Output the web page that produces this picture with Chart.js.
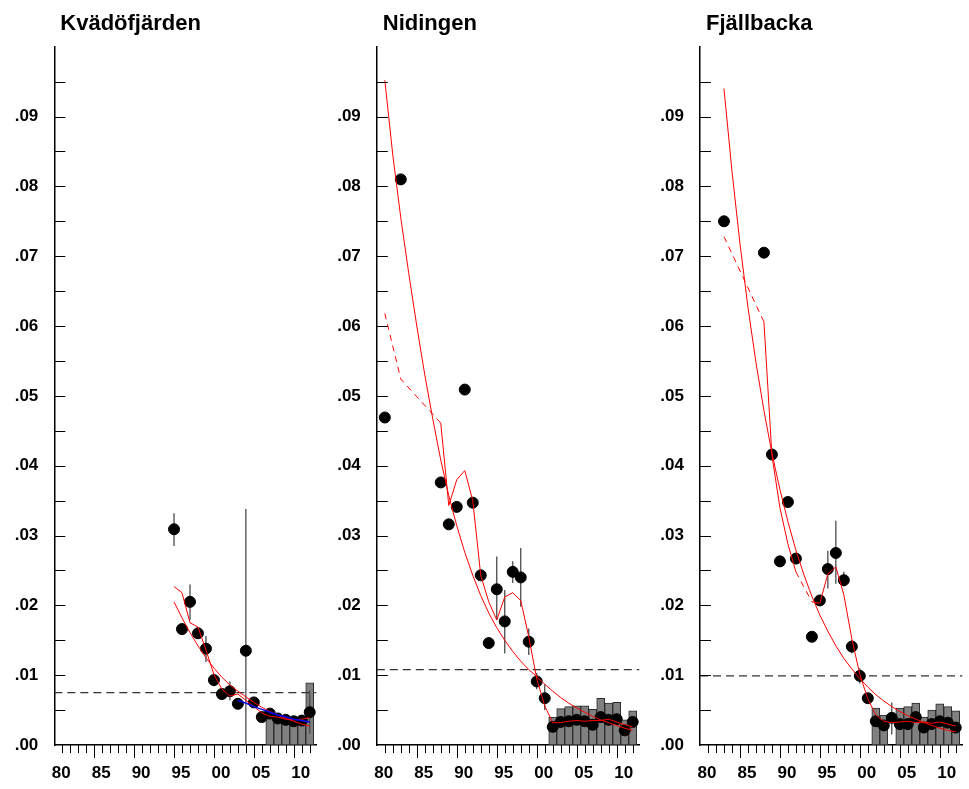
<!DOCTYPE html>
<html>
<head>
<meta charset="utf-8">
<script src="https://cdn.jsdelivr.net/npm/chart.js@4.4.1/dist/chart.umd.min.js"></script>
<style>
  html, body { margin: 0; padding: 0; background: #fff; }
  #wrap { position: relative; width: 969px; height: 789px; overflow: hidden; }
  canvas { position: absolute; top: 0; }
</style>
</head>
<body>
<div id="wrap">
  <canvas id="panel1" width="323" height="789" style="left:0px"></canvas>
  <canvas id="panel2" width="323" height="789" style="left:323px"></canvas>
  <canvas id="panel3" width="323" height="789" style="left:646px"></canvas>
</div>
<script>
// ---- axes ----
const xMin = 1980, xMax = 2012.85;
const xTickYears  = [1980, 1985, 1990, 1995, 2000, 2005, 2010];
const xTickLabels = ['80', '85', '90', '95', '00', '05', '10'];
const yTickValues = [0, 0.01, 0.02, 0.03, 0.04, 0.05, 0.06, 0.07, 0.08, 0.09];
const yTickLabels = ['.00', '.01', '.02', '.03', '.04', '.05', '.06', '.07', '.08', '.09'];

// ---- Kvädöfjärden ----
const kvYears = [1995, 1996, 1997, 1998, 1999, 2000, 2001, 2002, 2003, 2004, 2005, 2006, 2007, 2008, 2009, 2010, 2011, 2012];
const kvMean  = [.0309, .0166, .0205, .0160, .0138, .0093, .0073, .0077, .0059, .0135, .0061, .0040, .0045, .0038, .0036, .0034, .0035, .0047];
const kvLow   = [.0285, .0159, .0179, .0155, .0119, .0084, null, .0064, null, 0, null, null, null, null, null, null, null, .0016];
const kvHigh  = [.0332, .0174, .0230, .0166, .0156, .0102, null, .0091, null, .0338, null, null, null, null, null, null, null, .0078];
const kvTrend  = [.0205, .0182, .0161, .0142, .0125, .0110, .0097, .0086, .0077, .0069, .0061, .0054, .0048, .0043, .0038, .0034, .0030, .0027];
const kvSmooth = [.0227, .0218, .0175, .0169, .0136, .0101, .0080, .0070, .0073, .0064, .0055, .0046, .0041, .0040, .0037, .0036, .0037, .0039];
const kvRecentYears = [2003, 2004, 2005, 2006, 2007, 2008, 2009, 2010, 2011, 2012];
const kvRecent      = [.0064, .0060, .0055, .0051, .0047, .0043, .0040, .0037, .0035, .0033];
const kvBarYears = [2007, 2008, 2009, 2010, 2011, 2012];
const kvBars     = [.0045, .0041, .0038, .0036, .0037, .0089];
const kvLevel = .0075;

// ---- Nidingen ----
const niYears = [1981, 1983, 1988, 1989, 1990, 1991, 1992, 1993, 1994, 1995, 1996, 1997, 1998, 1999, 2000, 2001, 2002, 2003, 2004, 2005, 2006, 2007, 2008, 2009, 2010, 2011, 2012];
const niMean  = [.0469, .0810, .0376, .0316, .0341, .0509, .0347, .0243, .0146, .0223, .0177, .0248, .0240, .0148, .0091, .0067, .0026, .0033, .0034, .0036, .0034, .0029, .0040, .0036, .0037, .0021, .0033];
const niLow   = [null, null, null, null, null, null, null, null, null, .0179, .0131, .0232, .0198, .0129, .0080, .0050, null, null, null, null, null, null, null, null, null, null, null];
const niHigh  = [null, null, null, null, null, null, null, null, null, .0270, .0222, .0263, .0282, .0167, .0103, .0087, null, null, null, null, null, null, null, null, null, null, null];
const niSmooth = [.0618, .0524, .0461, .0343, .0380, .0393, .0350, .0243, .0205, .0179, .0212, .0218, .0207, .0155, .0095, .0056, .0032, .0032, .0034, .0035, .0034, .0035, .0035, .0037, .0033, .0029, .0026];
const niTrendYears = [1981, 1982, 1983, 1984, 1985, 1986, 1987, 1988, 1989, 1990, 1991, 1992, 1993, 1994, 1995, 1996, 1997, 1998, 1999, 2000, 2001, 2002, 2003, 2004, 2005, 2006, 2007, 2008, 2009, 2010, 2011, 2012];
const niTrend = [.0952, .0845, .0755, .0675, .0600, .0530, .0467, .0408, .0357, .0314, .0276, .0243, .0214, .0189, .0168, .0150, .0134, .0120, .0108, .0098, .0087, .0077, .0068, .0060, .0053, .0047, .0041, .0036, .0032, .0028, .0024, .0021];
const niBarYears = [2002, 2003, 2004, 2005, 2006, 2007, 2008, 2009, 2010, 2011, 2012];
const niBars     = [.0040, .0052, .0055, .0056, .0056, .0051, .0067, .0060, .0061, .0036, .0049];
const niLevel = .0108;

// ---- Fjällbacka ----
const fjYears = [1983, 1988, 1989, 1990, 1991, 1992, 1994, 1995, 1996, 1997, 1998, 1999, 2000, 2001, 2002, 2003, 2004, 2005, 2006, 2007, 2008, 2009, 2010, 2011, 2012];
const fjMean  = [.0750, .0705, .0416, .0263, .0348, .0267, .0155, .0207, .0252, .0275, .0236, .0141, .0099, .0067, .0034, .0028, .0039, .0030, .0030, .0040, .0025, .0030, .0034, .0032, .0025];
const fjLow   = [null, null, null, null, null, null, null, null, .0224, .0231, .0227, .0131, .0088, .0060, null, null, .0015, null, null, null, null, null, null, null, null];
const fjHigh  = [null, null, null, null, null, null, null, null, .0278, .0321, .0248, .0150, .0110, .0074, null, null, .0061, null, null, null, null, null, null, null, null];
const fjSmooth = [.0728, .0606, .0415, .0340, .0288, .0248, .0205, .0203, .0245, .0255, .0215, .0152, .0101, .0066, .0043, .0034, .0032, .0033, .0034, .0032, .0033, .0031, .0033, .0030, .0027];
const fjTrendYears = [1983, 1984, 1985, 1986, 1987, 1988, 1989, 1990, 1991, 1992, 1993, 1994, 1995, 1996, 1997, 1998, 1999, 2000, 2001, 2002, 2003, 2004, 2005, 2006, 2007, 2008, 2009, 2010, 2011, 2012];
const fjTrend = [.0940, .0822, .0718, .0627, .0548, .0479, .0418, .0366, .0320, .0279, .0244, .0213, .0186, .0163, .0142, .0124, .0109, .0095, .0083, .0072, .0063, .0055, .0048, .0042, .0037, .0032, .0028, .0024, .0021, .0019];
const fjBarYears = [2002, 2003, 2005, 2006, 2007, 2008, 2009, 2010, 2011, 2012];
const fjBars     = [.0053, .0043, .0053, .0055, .0060, .0040, .0050, .0059, .0055, .0049];
const fjLevel = .0099;

// ---- drawing helpers ----
const FONT = '"Liberation Sans", Arial, Helvetica, sans-serif';
const RED = '#ff0000';

const toPoints = (xs, ys) => xs.map((x, i) => ({ x: x, y: ys[i] }));

// vertical interval lines, separated by gaps so each is its own segment
function intervalPoints(xs, lo, hi) {
  const pts = [];
  xs.forEach((x, i) => {
    if (lo[i] === null || hi[i] === null) return;
    pts.push({ x: x, y: lo[i] }, { x: x, y: hi[i] }, { x: x, y: null });
  });
  return pts;
}

// inward y tick marks every .005 and downward x tick marks every year
const tickMarks = {
  id: 'tickMarks',
  afterDraw(chart) {
    const { ctx, chartArea: a, scales: { x, y } } = chart;
    ctx.save();
    ctx.strokeStyle = '#000';
    ctx.lineWidth = 1;
    ctx.beginPath();
    for (let k = 1; k <= 19; k++) {
      const py = Math.round(y.getPixelForValue(k * 0.005)) + 0.5;
      ctx.moveTo(a.left, py);
      ctx.lineTo(a.left + 11, py);
    }
    for (let yr = 1981; yr <= 2012; yr++) {
      const px = Math.round(x.getPixelForValue(yr)) + 0.5;
      ctx.moveTo(px, a.bottom);
      ctx.lineTo(px, a.bottom + (yr % 5 === 0 ? 13 : 8));
    }
    ctx.stroke();
    ctx.restore();
  }
};

// station name above each panel
const panelTitle = {
  id: 'panelTitle',
  afterDraw(chart, args, opts) {
    const { ctx, chartArea } = chart;
    ctx.save();
    ctx.font = 'bold 22px ' + FONT;
    ctx.fillStyle = '#000';
    ctx.textAlign = 'left';
    ctx.textBaseline = 'alphabetic';
    ctx.fillText(opts.text, chartArea.left + 6, 30);
    ctx.restore();
  }
};

function buildPanel(id, p) {
  const lineStyle = { type: 'line', pointRadius: 0, tension: 0, fill: false };
  const datasets = [
    { type: 'bar', data: toPoints(p.barYears, p.bars), backgroundColor: '#808080',
      borderColor: '#2a2a2a', borderWidth: 1, borderSkipped: false,
      barPercentage: 1, categoryPercentage: 1, order: 6 },
    Object.assign({}, lineStyle, { data: [{ x: xMin, y: p.level }, { x: xMax, y: p.level }],
      borderColor: '#333', borderWidth: 1.2, borderDash: [8, 5], order: 5 }),
    Object.assign({}, lineStyle, { data: intervalPoints(p.years, p.low, p.high),
      borderColor: '#4a4a4a', borderWidth: 1.3, spanGaps: false, order: 4 }),
    { type: 'scatter', data: toPoints(p.years, p.mean), backgroundColor: '#000',
      borderColor: '#000', pointRadius: 5.5, pointHoverRadius: 5.5, order: 3 },
    Object.assign({}, lineStyle, { data: toPoints(p.trendYears, p.trend),
      borderColor: RED, borderWidth: 1, order: 2 }),
    Object.assign({}, lineStyle, { data: toPoints(p.years, p.smooth),
      borderColor: RED, borderWidth: 1, order: 2,
      segment: { borderDash: c => (c.p1.parsed.x - c.p0.parsed.x > 1.5 ? [6, 5] : undefined) } })
  ];
  if (p.recentYears) {
    datasets.push(Object.assign({}, lineStyle, { data: toPoints(p.recentYears, p.recent),
      borderColor: '#0000ff', borderWidth: 1.5, order: 1 }));
  }

  new Chart(document.getElementById(id), {
    type: 'scatter',
    data: { datasets: datasets },
    options: {
      responsive: false,
      animation: false,
      devicePixelRatio: 1,
      layout: { padding: { left: 0, right: p.padRight, top: 46.7, bottom: 0 } },
      plugins: {
        legend: { display: false },
        tooltip: { enabled: false },
        panelTitle: { text: p.title }
      },
      scales: {
        x: {
          type: 'linear', min: xMin, max: xMax, offset: false,
          grid: { display: false, drawTicks: false, offset: false },
          border: { display: true, color: '#000', width: 1.5 },
          afterBuildTicks: s => { s.ticks = xTickYears.map(v => ({ value: v })); },
          afterFit: s => { s.height = 44; s.paddingLeft = 0; s.paddingRight = 0; },
          ticks: {
            autoSkip: false, maxRotation: 0, minRotation: 0, padding: 18.5, labelOffset: 7,
            color: '#000', font: { family: FONT, size: 17, weight: 'bold' },
            callback: (v, i) => xTickLabels[i]
          }
        },
        y: {
          type: 'linear', min: 0, max: 0.1,
          grid: { display: false, drawTicks: false },
          border: { display: true, color: '#000', width: 1.5 },
          afterBuildTicks: s => { s.ticks = yTickValues.map(v => ({ value: v })); },
          afterFit: s => { s.width = p.axisLeft; s.paddingTop = 0; s.paddingBottom = 0; },
          ticks: {
            autoSkip: false, padding: 16,
            color: '#000', font: { family: FONT, size: 17, weight: 'bold' },
            callback: (v, i) => yTickLabels[i]
          }
        }
      }
    },
    plugins: [tickMarks, panelTitle]
  });
}

buildPanel('panel1', {
  title: 'Kvädöfjärden', axisLeft: 54.3, padRight: 1.7,
  years: kvYears, mean: kvMean, low: kvLow, high: kvHigh, smooth: kvSmooth,
  trendYears: kvYears, trend: kvTrend, recentYears: kvRecentYears, recent: kvRecent,
  barYears: kvBarYears, bars: kvBars, level: kvLevel
});
buildPanel('panel2', {
  title: 'Nidingen', axisLeft: 53.8, padRight: 2.2,
  years: niYears, mean: niMean, low: niLow, high: niHigh, smooth: niSmooth,
  trendYears: niTrendYears, trend: niTrend,
  barYears: niBarYears, bars: niBars, level: niLevel
});
buildPanel('panel3', {
  title: 'Fjällbacka', axisLeft: 54.0, padRight: 2.0,
  years: fjYears, mean: fjMean, low: fjLow, high: fjHigh, smooth: fjSmooth,
  trendYears: fjTrendYears, trend: fjTrend,
  barYears: fjBarYears, bars: fjBars, level: fjLevel
});
</script>
</body>
</html>
